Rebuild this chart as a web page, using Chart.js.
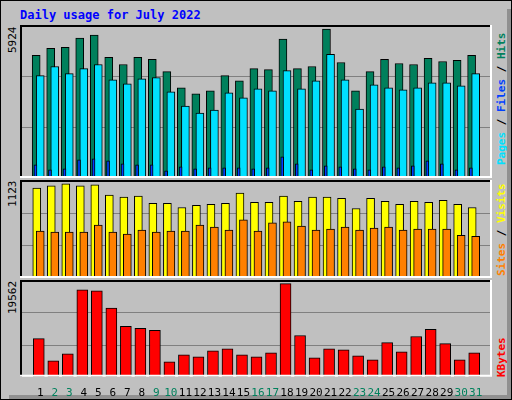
<!DOCTYPE html>
<html>
<head>
<meta charset="utf-8">
<script src="https://cdn.jsdelivr.net/npm/chart.js@4"></script>
<style>
  body { margin: 0; background: #fff; }
  #frame { position: relative; width: 510px; height: 398px; background: #c0c0c0;
           border: 1px solid #000; font-family: "DejaVu Sans Mono", monospace; overflow: hidden; }
  #frame:after { content: ""; position: absolute; right: 0; top: 8px; width: 4px; bottom: 0; background: #909090; }
  #shadowb { position: absolute; left: 8px; right: 0; bottom: 0; height: 4px; background: #909090; }
  canvas { position: absolute; }
  .lbl { position: absolute; white-space: nowrap; transform-origin: left top; transform: rotate(-90deg); }
  #title { position: absolute; left: 19px; top: 7px; color: #0000ff; font-weight: bold; font-size: 12px; }
</style>
</head>
<body>
<div id="frame">
  <div id="shadowb"></div>
  <div id="title">Daily usage for July 2022</div>
  <canvas id="top"></canvas>
  <canvas id="mid"></canvas>
  <canvas id="bot"></canvas>
  <div class="lbl" style="left:5px;top:52px;font-size:11px">5924</div>
  <div class="lbl" style="left:5px;top:206px;font-size:11px">1123</div>
  <div class="lbl" style="left:5px;top:313px;font-size:11px">19562</div>
  <div class="lbl" style="left:494px;top:164px;font-size:11px;font-weight:bold">
    <span style="color:#00e0ff">Pages</span> / <span style="color:#0040ff">Files</span> / <span style="color:#00805c">Hits</span></div>
  <div class="lbl" style="left:494px;top:275px;font-size:11px;font-weight:bold">
    <span style="color:#ff8000">Sites</span> / <span style="color:#ffff00">Visits</span></div>
  <div class="lbl" style="left:494px;top:376px;font-size:11px;font-weight:bold">
    <span style="color:#ff0000">KBytes</span></div>
</div>
<script>
// Daily values
const days = [1,2,3,4,5,6,7,8,9,10,11,12,13,14,15,16,17,18,19,20,21,22,23,24,25,26,27,28,29,30,31];
const weekends = [2,3,9,10,16,17,23,24,30,31];
const hits = [4876,5158,5199,5561,5682,4796,4514,4796,4715,4232,3587,3345,3466,4070,3869,4352,
              4312,5521,4352,4433,5924,4594,3466,4232,4715,4554,4514,4755,4635,4675,4876];
const pages = [4070,4433,4151,4352,4514,3909,3748,3949,3990,3426,2861,2579,2700,3385,3184,3546,
               3466,4272,3546,3869,4917,3909,2740,3708,3587,3506,3587,3788,3788,3667,4151];
const files = [524,322,363,725,766,685,564,524,524,282,443,363,403,403,403,363,
               403,846,564,322,484,443,363,322,443,403,484,685,564,322,403];
const visits = [1073,1098,1123,1098,1110,987,963,975,889,889,840,865,877,889,1012,902,
                902,975,914,963,963,951,828,951,914,877,914,902,926,877,840];
const sites = [559,547,547,547,632,547,522,571,547,559,559,632,608,571,694,559,
               657,669,620,571,583,608,571,596,608,571,583,583,583,510,498];
const kbytes = [8034,3342,4835,18273,18059,14433,10594,10167,9741,3128,4622,4195,5475,5901,4622,4195,
                5048,19562,8674,3982,5901,5688,4408,3555,7181,5261,8461,9954,6968,3555,5048];

const X_MIN = 0.13, X_MAX = 31.6;

function place(id, left, top, w, h) {
    const c = document.getElementById(id);
    c.style.left = left + 'px'; c.style.top = top + 'px';
    c.style.width = w + 'px'; c.style.height = h + 'px';
    c.width = w; c.height = h;
    return c;
}

// gridlines at thirds under the bars, bevelled panel frame on top
const panelPlugin = {
    id: 'panel',
    beforeDatasetsDraw(chart) {
        const { ctx, chartArea: a, scales: { y } } = chart;
        ctx.save();
        ctx.strokeStyle = '#808080';
        ctx.lineWidth = 1;
        [1, 2].forEach(k => {
            const py = Math.round(y.getPixelForValue(y.max * k / 3)) + 0.5;
            ctx.beginPath(); ctx.moveTo(a.left, py); ctx.lineTo(a.right, py); ctx.stroke();
        });
        ctx.restore();
    },
    afterDatasetsDraw(chart) {
        const { ctx, chartArea: a } = chart;
        ctx.save();
        ctx.lineWidth = 2;
        ctx.strokeStyle = '#000';
        ctx.beginPath(); ctx.moveTo(a.left + 1, a.bottom); ctx.lineTo(a.left + 1, a.top + 1); ctx.lineTo(a.right, a.top + 1); ctx.stroke();
        ctx.strokeStyle = '#fff';
        ctx.beginPath(); ctx.moveTo(a.right - 1, a.top); ctx.lineTo(a.right - 1, a.bottom - 1); ctx.lineTo(a.left, a.bottom - 1); ctx.stroke();
        ctx.restore();
    }
};

function series(values, shift) {
    return values.map((v, i) => ({ x: days[i] + shift, y: v }));
}

function bars(label, values, shift, color, width, order) {
    return {
        label: label,
        data: series(values, shift),
        backgroundColor: color,
        borderColor: '#000',
        borderWidth: 1,
        borderSkipped: false,
        barThickness: width,
        grouped: false,
        order: order
    };
}

function makeChart(canvas, datasets, yMax, showX) {
    return new Chart(canvas.getContext('2d'), {
        type: 'bar',
        data: { datasets: datasets },
        options: {
            responsive: false,
            animation: false,
            events: [],
            layout: { padding: 0 },
            plugins: { legend: { display: false }, tooltip: { enabled: false } },
            scales: {
                x: {
                    type: 'linear', min: X_MIN, max: X_MAX, display: showX,
                    grid: { display: false }, border: { display: false },
                    afterBuildTicks: s => { s.ticks = days.map(d => ({ value: d })); },
                    ticks: {
                        padding: 2,
                        autoSkip: false, maxRotation: 0,
                        font: { family: 'DejaVu Sans Mono', size: 11 },
                        color: c => weekends.includes(c.tick.value) ? '#00805c' : '#000',
                        callback: v => String(v)
                    }
                },
                y: { min: 0, max: yMax, display: false }
            }
        },
        plugins: [panelPlugin]
    });
}

makeChart(place('top', 19, 24, 472, 153), [
    bars('Files', files, -0.33, '#0040ff', 3, 0),
    bars('Pages', pages, 0, '#00e0ff', 8, 1),
    bars('Hits', hits, -0.28, '#00805c', 8, 2)
], 6085, false);

makeChart(place('mid', 19, 179, 472, 98), [
    bars('Sites', sites, 0, '#ff8000', 8, 0),
    bars('Visits', visits, -0.24, '#ffff00', 8, 1)
], 1168, false);

makeChart(place('bot', 19, 279, 472, 122), [
    bars('KBytes', kbytes, -0.1, '#ff0000', 11, 0)
], 20337, true);
</script>
</body>
</html>
